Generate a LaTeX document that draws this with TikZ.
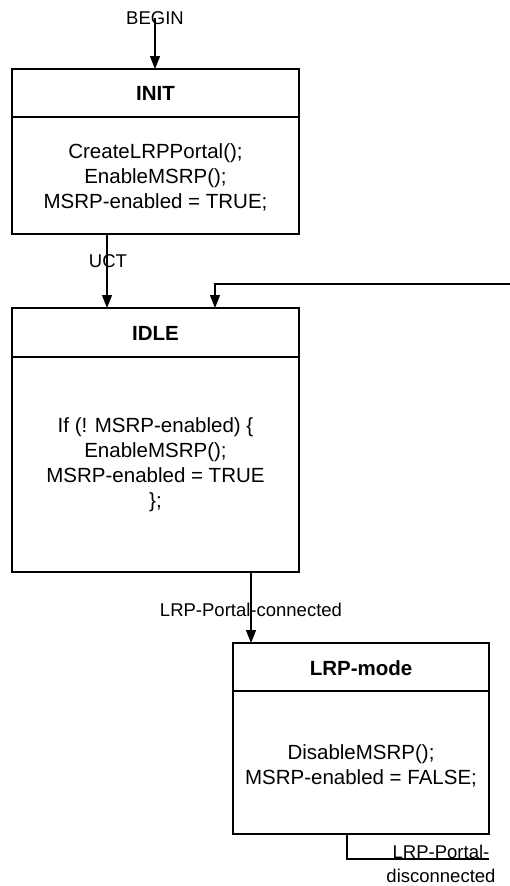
\documentclass[tikz,border=0pt]{standalone}
\usepackage{fontspec}
\setmainfont{Liberation Sans}
\usetikzlibrary{arrows.meta}
\begin{document}
\begin{tikzpicture}[x=1pt,y=-1pt,
  stbox/.style={draw,line width=1.3pt,inner sep=0pt,outer sep=0pt,anchor=north west},
  hdr/.style={font=\fontsize{20.5}{25}\selectfont\bfseries},
  body/.style={font=\fontsize{20.5}{25}\selectfont,align=center},
  lbl/.style={font=\fontsize{18.5}{24}\selectfont,align=center,inner sep=0pt},
  divider/.style={line width=1.3pt},
  conn/.style={line width=1.3pt},
  arr/.style={line width=1.3pt,-{Triangle[width=10pt,length=13pt]}}]
\useasboundingbox (0,0) rectangle (510,886);
% boxes
\node[stbox,minimum width=287pt,minimum height=165pt] (init) at (12,69) {};
\node[stbox,minimum width=287pt,minimum height=264pt] (idle) at (12,308) {};
\node[stbox,minimum width=256pt,minimum height=191pt] (lrp) at (233,643) {};
% dividers
\coordinate (d1) at (0,117);
\coordinate (d2) at (0,357);
\coordinate (d3) at (0,691);
\draw[divider] (init.west |- d1) -- (init.east |- d1);
\draw[divider] (idle.west |- d2) -- (idle.east |- d2);
\draw[divider] (lrp.west |- d3) -- (lrp.east |- d3);
% texts
\node[hdr] (initH) at (155.5,93) {INIT};
\node[body] (initB) at (155.5,177) {CreateLRPPortal();\\EnableMSRP();\\MSRP-enabled = TRUE;};
\node[hdr] (idleH) at (155.5,333) {IDLE};
\node[body] (idleB) at (155.5,465) {If (! MSRP-enabled) \{\\EnableMSRP();\\MSRP-enabled = TRUE\\\};};
\node[hdr] (lrpH) at (361,668) {LRP-mode};
\node[body] (lrpB) at (361,765.5) {DisableMSRP();\\MSRP-enabled = FALSE;};
% connectors
\node[lbl] (begin) at (155,18) {BEGIN};
\draw[arr] (begin.center) -- (begin.center |- init.north);
\coordinate (cu) at (107,0);
\draw[arr] (init.south -| cu) -- (idle.north -| cu);
\node[lbl] (uct) at (108,261) {UCT};
\coordinate (fb) at (510,284);
\coordinate (cf) at (215,0);
\draw[arr] (fb) -| (idle.north -| cf);
\coordinate (cc) at (251,0);
\draw[arr] (idle.south -| cc) -- (lrp.north -| cc);
\node[lbl] (conl) at (251,610) {LRP-Portal-connected};
\coordinate (cd) at (347,0);
\coordinate (dend) at (489,859);
\draw[conn] (lrp.south -| cd) |- (dend);
\node[lbl] (disl) at (441,864) {LRP-Portal-\\disconnected};
\end{tikzpicture}
\end{document}
